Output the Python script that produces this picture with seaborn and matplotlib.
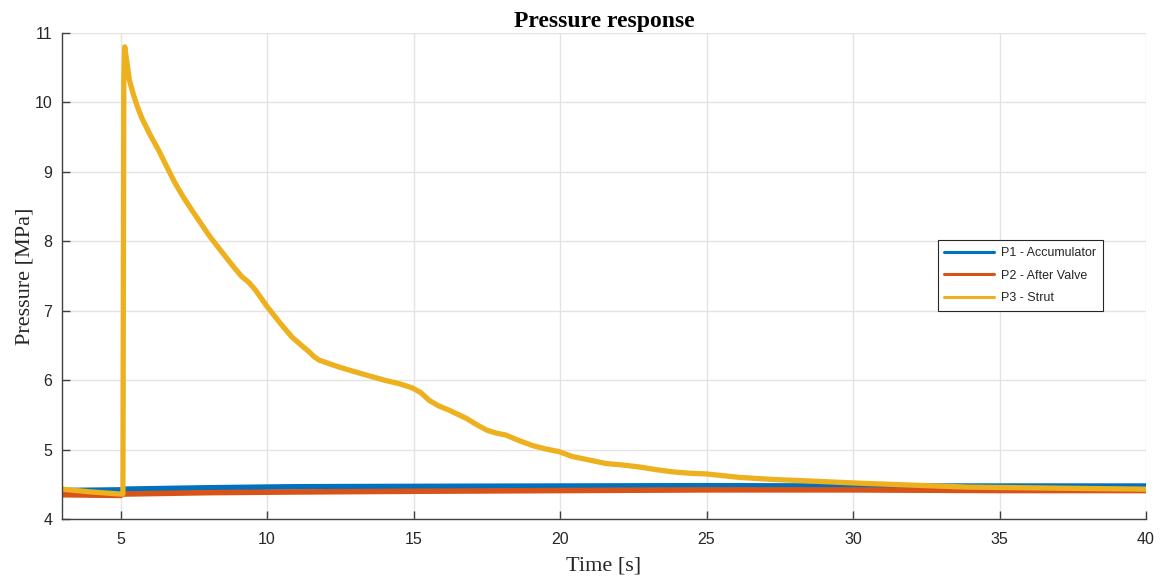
import matplotlib
matplotlib.use("Agg")
import matplotlib.pyplot as plt
from matplotlib.lines import Line2D
import seaborn as sns
import pandas as pd

# Sensor traces (time in s, pressure in MPa)
t_p1 = [3.0, 5.0, 5.1, 8.0, 11.0, 15.0, 20.0, 25.0, 30.0, 35.0, 40.0]
p1 = [4.41, 4.42, 4.43, 4.45, 4.465, 4.47, 4.475, 4.48, 4.475, 4.475, 4.475]

t_p2 = [3.0, 5.0, 5.1, 8.0, 11.0, 15.0, 20.0, 25.0, 30.0, 35.0, 40.0]
p2 = [4.35, 4.34, 4.36, 4.38, 4.39, 4.40, 4.41, 4.42, 4.42, 4.41, 4.41]

t_p3 = [3.0, 4.0, 5.0, 5.08, 5.11, 5.14, 5.22, 5.30, 5.44, 5.58, 5.73, 6.0,
        6.30, 6.58, 6.87, 7.15, 7.43, 7.72, 8.01, 8.30, 8.58, 8.86, 9.14,
        9.37, 9.60, 9.80, 10.0, 10.43, 10.85, 11.15, 11.43, 11.60, 11.77,
        12.1, 12.45, 13.0, 13.5, 14.0, 14.5, 14.95, 15.25, 15.53, 15.85,
        16.2, 16.5, 16.8, 17.15, 17.5, 17.8, 18.15, 18.6, 19.05, 19.5, 19.97,
        20.42, 21.0, 21.56, 22.1, 22.7, 23.3, 23.84, 24.4, 24.98, 26.12,
        27.26, 28.4, 30.0, 31.9, 33.9, 36.0, 38.0, 40.0]
p3 = [4.43, 4.39, 4.36, 4.36, 10.30, 10.80, 10.57, 10.32, 10.11, 9.93, 9.77,
      9.54, 9.31, 9.07, 8.83, 8.63, 8.45, 8.27, 8.09, 7.93, 7.78, 7.63, 7.49,
      7.41, 7.30, 7.18, 7.06, 6.83, 6.62, 6.51, 6.41, 6.34, 6.29, 6.24, 6.19,
      6.12, 6.06, 6.00, 5.95, 5.89, 5.82, 5.71, 5.63, 5.57, 5.51, 5.45, 5.36,
      5.28, 5.24, 5.21, 5.13, 5.06, 5.01, 4.97, 4.90, 4.85, 4.80, 4.78, 4.75,
      4.71, 4.68, 4.66, 4.65, 4.60, 4.57, 4.55, 4.52, 4.49, 4.46, 4.45, 4.44,
      4.43]

labels = ["P1 - Accumulator", "P2 - After Valve", "P3 - Strut"]
colors = ["#0072BD", "#D95319", "#EDB120"]
x_ticks = [5, 10, 15, 20, 25, 30, 35, 40]
y_ticks = [4, 5, 6, 7, 8, 9, 10, 11]

frames = []
for name, t, p in zip(labels, [t_p1, t_p2, t_p3], [p1, p2, p3]):
    frames.append(pd.DataFrame({"Time": t, "Pressure": p, "Sensor": name}))
df = pd.concat(frames, ignore_index=True)

sns.set_theme(style="white")
plt.rcParams["font.family"] = ["Liberation Sans", "DejaVu Sans"]

fig = plt.figure(figsize=(11.63, 5.78), dpi=100)
ax = fig.add_axes([0.0533, 0.102, 0.9321, 0.841])

sns.lineplot(data=df, x="Time", y="Pressure", hue="Sensor", hue_order=labels,
             palette=colors, sort=False, estimator=None, linewidth=4.0,
             ax=ax, legend=False)
for ln in ax.lines:
    ln.set_solid_joinstyle("round")
    ln.set_solid_capstyle("butt")
ax.lines[2].set_linewidth(3.8)

ax.set_xlim(3, 40)
ax.set_ylim(4, 11)
ax.set_xticks(x_ticks)
ax.set_yticks(y_ticks)
ax.grid(True, color="#e3e3e3", linewidth=1.0)
ax.set_axisbelow(True)

for side in ["top", "right"]:
    ax.spines[side].set_visible(False)
for side in ["left", "bottom"]:
    ax.spines[side].set_color("#404040")
    ax.spines[side].set_linewidth(1.0)

ax.tick_params(axis="both", direction="in", length=6, width=1.0,
               color="#404040", labelsize=11.5, labelcolor="#262626",
               bottom=True, left=True, pad=7)
ax.tick_params(axis="x", pad=9)

serif = ["Liberation Serif", "DejaVu Serif"]
ax.set_xlabel("Time [s]", fontsize=16, family=serif, color="#262626", labelpad=7)
ax.set_ylabel("Pressure [MPa]", fontsize=16, family=serif, color="#262626", labelpad=0)
ax.set_title("Pressure response", fontsize=17, family=serif, weight="bold",
             color="black", pad=4)

handles = [Line2D([0], [0], color=c, linewidth=2.2) for c in colors]
leg = ax.legend(handles, labels, loc="upper right", bbox_to_anchor=(0.960, 0.574),
                borderaxespad=0, fontsize=9, handlelength=4.0, handletextpad=0.5,
                labelspacing=0.85, borderpad=0.55, fancybox=False, framealpha=1)
leg.get_frame().set_edgecolor("#262626")
leg.get_frame().set_linewidth(0.8)
for txt in leg.get_texts():
    txt.set_color("#262626")

fig.savefig("out.png", dpi=100)
